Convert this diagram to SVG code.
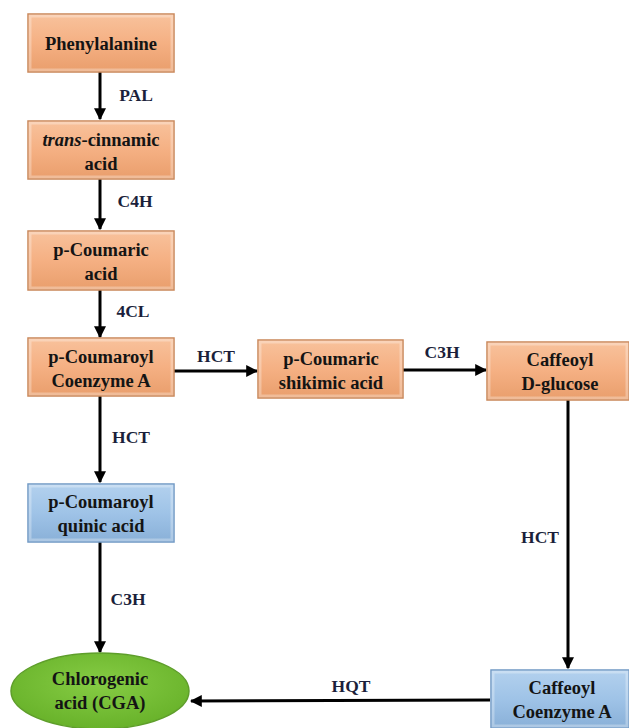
<svg xmlns="http://www.w3.org/2000/svg" width="629" height="728" viewBox="0 0 629 728" font-family="Liberation Serif, DejaVu Serif, serif" font-weight="bold">
<defs>
<linearGradient id="gO" x1="0" y1="0" x2="0" y2="1">
<stop offset="0" stop-color="#f8c29c"/><stop offset="0.5" stop-color="#f5b083"/><stop offset="1" stop-color="#e99e6c"/>
</linearGradient>
<linearGradient id="gB" x1="0" y1="0" x2="0" y2="1">
<stop offset="0" stop-color="#b3d1ee"/><stop offset="0.5" stop-color="#9fc3e7"/><stop offset="1" stop-color="#89b0d8"/>
</linearGradient>
<radialGradient id="gG" cx="0.5" cy="0.4" r="0.6">
<stop offset="0" stop-color="#86cc44"/><stop offset="1" stop-color="#68b22a"/>
</radialGradient>
<marker id="ah" viewBox="0 0 10 10" refX="9" refY="5" markerWidth="4" markerHeight="4" orient="auto" markerUnits="strokeWidth">
<path d="M0,0 L10,5 L0,10 z" fill="#000"/>
</marker>
</defs>
<style>
.o{fill:url(#gO);stroke:#c98658;stroke-width:1.5}
.b{fill:url(#gB);stroke:#6f98c4;stroke-width:1.5}
.in{fill:none;stroke:#ffffff;stroke-opacity:0.3;stroke-width:3}
.t{font-size:18.5px;fill:#141414;text-anchor:middle}
.l{font-size:17.5px;fill:#1b1f3b;text-anchor:middle}
.c{stroke:#000;stroke-width:3;fill:none;marker-end:url(#ah)}
</style>
<rect width="629" height="728" fill="#fff"/>
<g id="connectors">
<line class="c" x1="100" y1="72" x2="100" y2="119"/>
<line class="c" x1="100" y1="179" x2="100" y2="229"/>
<line class="c" x1="100" y1="290" x2="100" y2="337"/>
<line class="c" x1="100" y1="396" x2="100" y2="482"/>
<line class="c" x1="100" y1="542" x2="100" y2="652"/>
<line class="c" x1="174" y1="371" x2="257" y2="371"/>
<line class="c" x1="403" y1="370" x2="486" y2="370"/>
<line class="c" x1="568" y1="400" x2="568" y2="668"/>
<line class="c" x1="490" y1="700" x2="191" y2="701"/>
<text class="l" x="136" y="101">PAL</text>
<text class="l" x="135" y="207">C4H</text>
<text class="l" x="133" y="317">4CL</text>
<text class="l" x="216" y="362">HCT</text>
<text class="l" x="442" y="358">C3H</text>
<text class="l" x="131" y="443">HCT</text>
<text class="l" x="128" y="605">C3H</text>
<text class="l" x="540" y="543">HCT</text>
<text class="l" x="351" y="692">HQT</text>
</g>
<g id="phenylalanine">
<rect class="o" x="28" y="14" width="146" height="58"/><rect class="in" x="30" y="16" width="142" height="54"/>
<text class="t" x="101" y="50">Phenylalanine</text>
</g>
<g id="trans-cinnamic">
<rect class="o" x="28" y="121" width="146" height="58"/><rect class="in" x="30" y="123" width="142" height="54"/>
<text class="t" x="101" y="146"><tspan font-style="italic">trans</tspan>-cinnamic</text>
<text class="t" x="101" y="170">acid</text>
</g>
<g id="p-coumaric">
<rect class="o" x="28" y="231" width="146" height="59"/><rect class="in" x="30" y="233" width="142" height="55"/>
<text class="t" x="101" y="256">p-Coumaric</text>
<text class="t" x="101" y="280">acid</text>
</g>
<g id="p-coumaroyl-coa">
<rect class="o" x="28" y="338" width="146" height="58"/><rect class="in" x="30" y="340" width="142" height="54"/>
<text class="t" x="101" y="363">p-Coumaroyl</text>
<text class="t" x="101" y="387">Coenzyme A</text>
</g>
<g id="p-coumaric-shikimic">
<rect class="o" x="258" y="340" width="145" height="58"/><rect class="in" x="260" y="342" width="141" height="54"/>
<text class="t" x="331" y="365">p-Coumaric</text>
<text class="t" x="331" y="389">shikimic acid</text>
</g>
<g id="caffeoyl-glucose">
<rect class="o" x="487" y="342" width="142" height="58"/><rect class="in" x="489" y="344" width="138" height="54"/>
<text class="t" x="560" y="366">Caffeoyl</text>
<text class="t" x="560" y="390">D-glucose</text>
</g>
<g id="p-coumaroyl-quinic">
<rect class="b" x="28" y="484" width="146" height="58"/><rect class="in" x="30" y="486" width="142" height="54"/>
<text class="t" x="101" y="508">p-Coumaroyl</text>
<text class="t" x="101" y="532">quinic acid</text>
</g>
<g id="cga">
<ellipse cx="100" cy="691" rx="89" ry="38" fill="url(#gG)" stroke="#5e9e2a" stroke-width="1.5"/>
<text class="t" x="100" y="685">Chlorogenic</text>
<text class="t" x="100" y="709">acid (CGA)</text>
</g>
<g id="caffeoyl-coa">
<rect class="b" x="491" y="670" width="138" height="58"/><rect class="in" x="493" y="672" width="134" height="54"/>
<text class="t" x="562" y="694">Caffeoyl</text>
<text class="t" x="562" y="718">Coenzyme A</text>
</g>
</svg>
